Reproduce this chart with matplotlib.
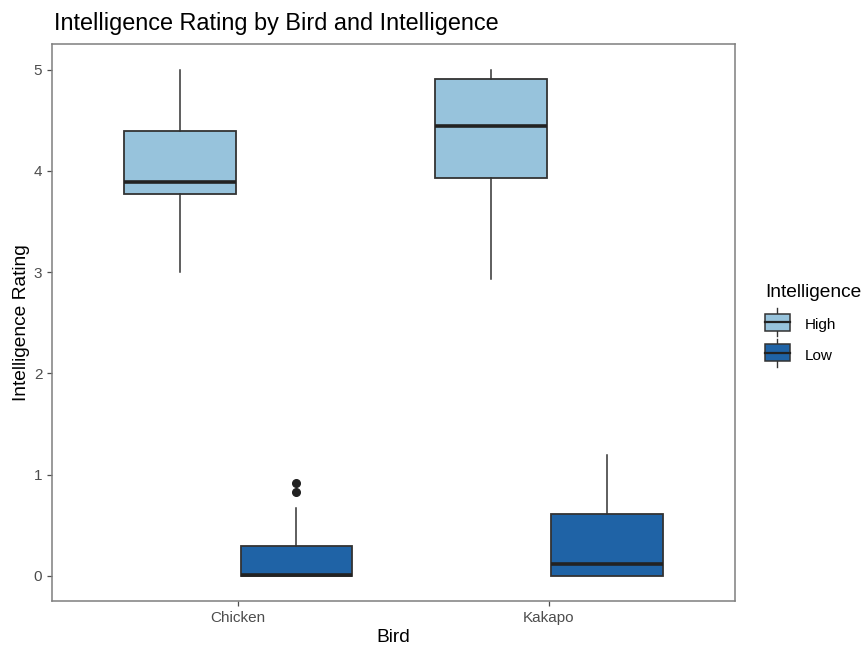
import matplotlib.pyplot as plt
from matplotlib.patches import Rectangle
from matplotlib.lines import Line2D
from matplotlib.legend_handler import HandlerBase

plt.rcParams['font.family'] = ['Liberation Sans', 'DejaVu Sans']

# values (box stats)
birds = ["Chicken", "Kakapo"]
groups = ["High", "Low"]
colors = ["#97C3DC", "#1F63A6"]

whislo = {"High": [3.00, 2.93], "Low": [0.00, 0.00]}
q1 = {"High": [3.77, 3.93], "Low": [0.00, 0.00]}
med = {"High": [3.89, 4.44], "Low": [0.01, 0.12]}
q3 = {"High": [4.39, 4.91], "Low": [0.30, 0.61]}
whishi = {"High": [5.00, 5.00], "Low": [0.67, 1.19]}
fliers = {"High": [[], []], "Low": [[0.83, 0.92], []]}

edge = "#333333"

fig = plt.figure(figsize=(8.64, 6.5), dpi=100)
ax = fig.add_axes([0.060, 0.075, 0.791, 0.857])

width = 0.75
for gi, g in enumerate(groups):
    stats = []
    for bi in range(len(birds)):
        stats.append(dict(whislo=whislo[g][bi], q1=q1[g][bi], med=med[g][bi],
                          q3=q3[g][bi], whishi=whishi[g][bi], fliers=fliers[g][bi]))
    pos = [bi + 1 + (gi - 0.5) * width / 2 for bi in range(len(birds))]
    ax.bxp(stats, positions=pos, widths=0.36, patch_artist=True,
           showcaps=False,
           boxprops=dict(facecolor=colors[gi], edgecolor=edge, linewidth=1.3),
           medianprops=dict(color="#222222", linewidth=2.6, solid_capstyle="butt"),
           whiskerprops=dict(color=edge, linewidth=1.1),
           flierprops=dict(marker="o", markerfacecolor="#222222",
                           markeredgecolor="#222222", markersize=5.5))

ax.set_xlim(0.4, 2.6)
ax.set_ylim(-0.25, 5.25)
ax.set_xticks([1, 2])
ax.set_xticklabels(birds)
ax.set_yticks([0, 1, 2, 3, 4, 5])
ax.tick_params(colors="#4D4D4D", labelsize=11, length=3.4, width=0.9)
for s in ax.spines.values():
    s.set_color("#7f7f7f")
    s.set_linewidth(1.1)

ax.set_xlabel("Bird", fontsize=13.75, labelpad=3)
ax.set_ylabel("Intelligence Rating", fontsize=13.75, labelpad=3)
ax.set_title("Intelligence Rating by Bird and Intelligence", fontsize=16.9, loc="left",
             x=0.003, pad=10)


class BoxKey(HandlerBase):
    def create_artists(self, legend, orig, xd, yd, w, h, fontsize, trans):
        fc = orig.get_facecolor()
        y0 = yd - 3.6  # nudge key down so label sits at its middle
        r = Rectangle((xd, y0), w, h, facecolor=fc,
                      edgecolor=edge, lw=1.1, transform=trans)
        m = Line2D([xd, xd + w], [y0 + h * 0.5] * 2, color="#222222", lw=1.6, transform=trans)
        wt = Line2D([xd + w / 2] * 2, [y0 + h, y0 + h * 1.3], color=edge, lw=1, transform=trans)
        wb = Line2D([xd + w / 2] * 2, [y0 - h * 0.3, y0], color=edge, lw=1, transform=trans)
        return [wt, wb, r, m]


handles = [Rectangle((0, 0), 1, 1, facecolor=c) for c in colors]
leg = fig.legend(handles, groups, title="Intelligence", loc="upper left",
                 bbox_to_anchor=(0.8695, 0.584), frameon=False, fontsize=11,
                 title_fontsize=13.75, handler_map={Rectangle: BoxKey()},
                 handlelength=1.63, handleheight=1.35, labelspacing=0.88,
                 handletextpad=0.97)
leg._legend_box.align = "left"
leg._legend_box.sep = 10.4

fig.savefig("out.png", dpi=100)
